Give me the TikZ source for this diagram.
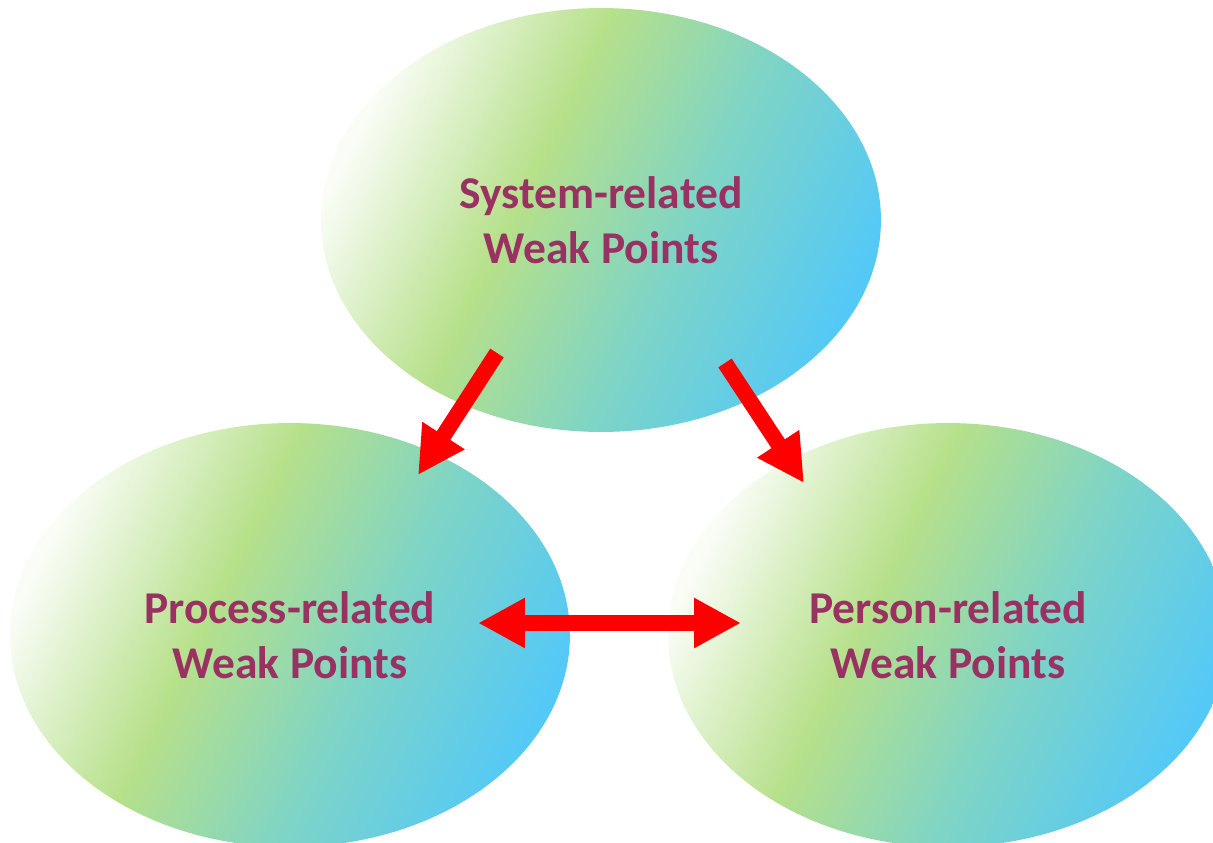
\documentclass[tikz,border=0pt]{standalone}
\usepackage{fontspec}
\setmainfont{Carlito}
\usetikzlibrary{shapes.geometric}
\usetikzlibrary{arrows.meta}
\usetikzlibrary{calc}

\definecolor{weakgreen}{RGB}{182,224,138}
\definecolor{weakteal}{RGB}{126,212,198}
\definecolor{weakblue}{RGB}{85,201,246}
\definecolor{weaktext}{RGB}{153,50,99}
\pgfdeclarehorizontalshading{weakshade}{100bp}{color(0bp)=(white); color(25bp)=(white!92!weakgreen); color(42bp)=(weakgreen); color(58bp)=(weakteal); color(75bp)=(weakblue); color(100bp)=(weakblue)}

\tikzset{
  weakspot/.style={ellipse, minimum width=11.2cm, minimum height=8.48cm, inner sep=0pt,
    shading=weakshade, shading angle=-26, text=weaktext,
    font=\bfseries\fontsize{25.9}{31}\selectfont, align=center},
  redarrow/.style={draw=red, line width=0.32cm, -{Triangle[length=0.94cm,width=0.94cm]}},
}

\begin{document}
\begin{tikzpicture}[x=0.02cm, y=-0.02cm]
\clip (0,0) rectangle (1213,842);
\fill[white] (0,0) rectangle (1213,842);

\node[weakspot] (sys) at (601,220) {System-related\\Weak Points};
\node[weakspot] (proc) at (290,635) {Process-related\\Weak Points};
\node[weakspot] (pers) at (948,635) {Person-related\\Weak Points};

% arrow ends
\coordinate (sysleft) at ($(sys)+(-104,133)$);
\coordinate (procin) at ($(proc)+(128,-160)$);
\coordinate (sysright) at ($(sys)+(124,143)$);
\coordinate (persin) at ($(pers)+(-144,-152)$);
\coordinate (procout) at ($(proc)+(188,-12)$);
\coordinate (persout) at ($(pers)+(-207,-12)$);

\draw[redarrow] (sysleft) -- (procin);
\draw[redarrow] (sysright) -- (persin);
\draw[redarrow, {Triangle[length=0.94cm,width=0.94cm]}-{Triangle[length=0.94cm,width=0.94cm]}] (procout) -- (persout);
\end{tikzpicture}
\end{document}
